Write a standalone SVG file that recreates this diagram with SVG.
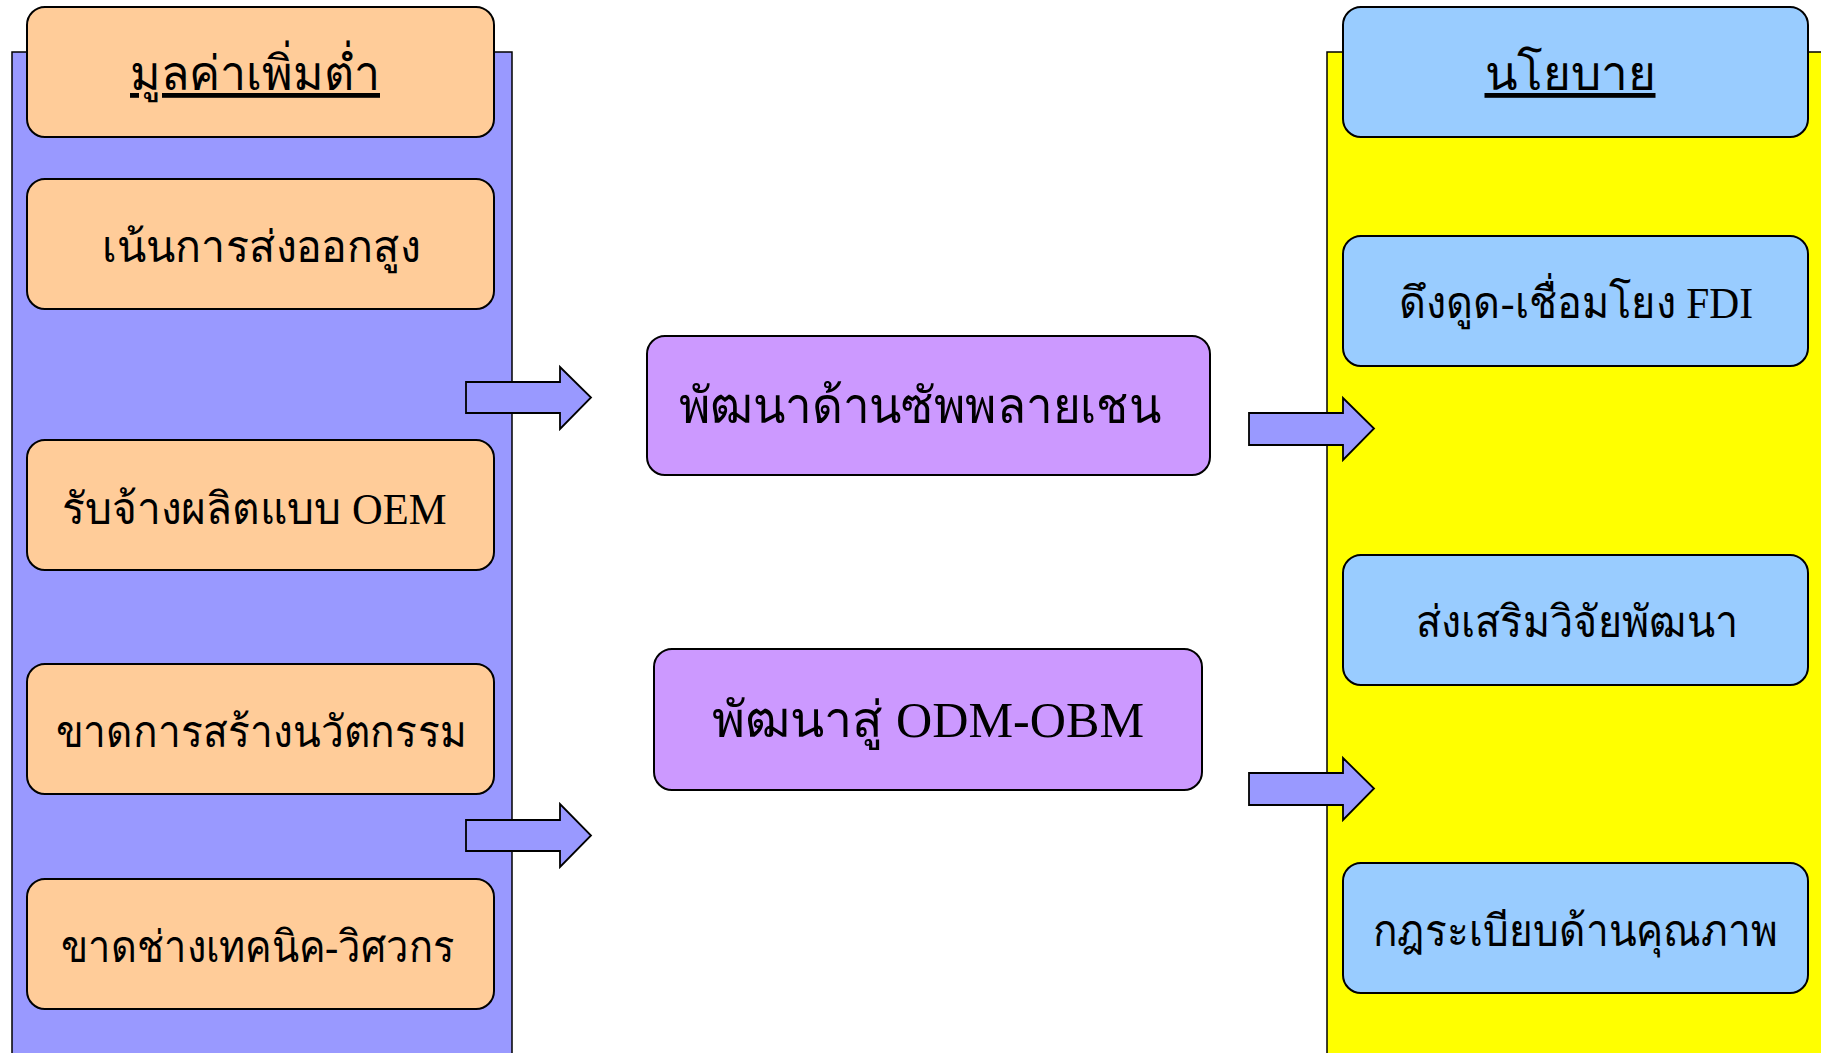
<svg xmlns="http://www.w3.org/2000/svg" width="1821" height="1053" viewBox="0 0 1821 1053">
<style>
.panel{stroke:#000;stroke-width:1.5}
.box{stroke:#000;stroke-width:2}
.orange{fill:#FFCC99}
.blue{fill:#99CCFF}
.purple{fill:#CC99FF}
.arrow{fill:#9999FF;stroke:#000;stroke-width:1.8;stroke-linejoin:miter}
text{font-family:"Liberation Serif","Noto Sans","DejaVu Sans",serif;font-size:44px;fill:#000;text-anchor:middle}
.hd{font-size:48px;text-decoration:underline}
.mid{font-size:50px}
</style>
<rect width="1821" height="1053" fill="#fff"/>
<g id="left-panel">
<rect class="panel" x="12" y="52" width="500" height="1010" fill="#9999FF"/>
</g>
<g id="right-panel">
<rect class="panel" x="1327" y="52" width="510" height="1010" fill="#FFFF00"/>
</g>
<g id="n-low-value">
<rect class="box orange" x="27" y="7" width="467" height="130" rx="18"/>
<text class="hd" x="255" y="90" textLength="250" lengthAdjust="spacingAndGlyphs">มูลค่าเพิ่มต่ำ</text>
</g>
<g id="n-export">
<rect class="box orange" x="27" y="179" width="467" height="130" rx="18"/>
<text x="261" y="262" textLength="318" lengthAdjust="spacingAndGlyphs">เน้นการส่งออกสูง</text>
</g>
<g id="n-oem">
<rect class="box orange" x="27" y="440" width="467" height="130" rx="18"/>
<text x="254" y="524" textLength="385" lengthAdjust="spacingAndGlyphs">รับจ้างผลิตแบบ OEM</text>
</g>
<g id="n-innovation">
<rect class="box orange" x="27" y="664" width="467" height="130" rx="18"/>
<text x="261" y="747" textLength="411" lengthAdjust="spacingAndGlyphs">ขาดการสร้างนวัตกรรม</text>
</g>
<g id="n-technician">
<rect class="box orange" x="27" y="879" width="467" height="130" rx="18"/>
<text x="258" y="962" textLength="394" lengthAdjust="spacingAndGlyphs">ขาดช่างเทคนิค-วิศวกร</text>
</g>
<g id="n-supply">
<rect class="box purple" x="647" y="336" width="563" height="139" rx="18"/>
<text class="mid" x="920" y="423" textLength="482" lengthAdjust="spacingAndGlyphs">พัฒนาด้านซัพพลายเชน</text>
</g>
<g id="n-odm">
<rect class="box purple" x="654" y="649" width="548" height="141" rx="18"/>
<text class="mid" x="928" y="737" textLength="432" lengthAdjust="spacingAndGlyphs">พัฒนาสู่ ODM-OBM</text>
</g>
<g id="n-policy">
<rect class="box blue" x="1343" y="7" width="465" height="130" rx="18"/>
<text class="hd" x="1570" y="90" textLength="171" lengthAdjust="spacingAndGlyphs">นโยบาย</text>
</g>
<g id="n-fdi">
<rect class="box blue" x="1343" y="236" width="465" height="130" rx="18"/>
<text x="1576" y="318" textLength="354" lengthAdjust="spacingAndGlyphs">ดึงดูด-เชื่อมโยง FDI</text>
</g>
<g id="n-rd">
<rect class="box blue" x="1343" y="555" width="465" height="130" rx="18"/>
<text x="1577" y="637" textLength="322" lengthAdjust="spacingAndGlyphs">ส่งเสริมวิจัยพัฒนา</text>
</g>
<g id="n-quality">
<rect class="box blue" x="1343" y="863" width="465" height="130" rx="18"/>
<text x="1575" y="946" textLength="405" lengthAdjust="spacingAndGlyphs">กฎระเบียบด้านคุณภาพ</text>
</g>
<g id="connectors">
<path class="arrow" d="M466,382 H560 V367 L591,397.5 L560,429 V413 H466 Z"/>
<path class="arrow" d="M466,820 H560 V804 L591,835.5 L560,867 V851 H466 Z"/>
<path class="arrow" d="M1249,413 H1343 V398 L1374,428.5 L1343,460 V445 H1249 Z"/>
<path class="arrow" d="M1249,773 H1343 V758 L1374,788.5 L1343,820 V805 H1249 Z"/>
</g>
</svg>
